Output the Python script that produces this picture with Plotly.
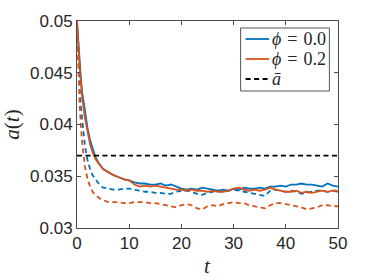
import plotly.graph_objects as go

# ---- data ----
t = [0, 0.25, 0.5, 0.75, 1, 1.5, 2, 2.5, 3, 3.5, 4, 4.5, 5] + list(range(6, 51))

a_phi00 = [0.0500, 0.0478, 0.0459, 0.0444, 0.0431, 0.0412, 0.0397, 0.0385, 0.0376, 0.0369, 0.0364, 0.0360, 0.0357,
           0.0354, 0.0351, 0.0349, 0.0347, 0.0346, 0.0344, 0.0343, 0.0343, 0.0342, 0.0342, 0.0343, 0.0341, 0.0342,
           0.0340, 0.0338, 0.0337, 0.0338, 0.0337, 0.0339, 0.0338, 0.0337, 0.0336, 0.0337, 0.0336, 0.0338, 0.0337,
           0.0339, 0.0338, 0.0338, 0.0339, 0.0338, 0.0340, 0.0340, 0.0341, 0.0340, 0.0342, 0.0342, 0.0343, 0.0342,
           0.0342, 0.0341, 0.0340, 0.0343, 0.0341, 0.0340]

a_phi02 = [0.0500, 0.0474, 0.0455, 0.0440, 0.0426, 0.0407, 0.0392, 0.0381, 0.0373, 0.0367, 0.0363, 0.0360, 0.0357,
           0.0354, 0.0351, 0.0349, 0.0347, 0.0346, 0.0342, 0.0340, 0.0341, 0.0340, 0.0341, 0.0340, 0.0339, 0.0338,
           0.0337, 0.0337, 0.0336, 0.0337, 0.0336, 0.0336, 0.0335, 0.0336, 0.0335, 0.0335, 0.0336, 0.0338, 0.0339,
           0.0337, 0.0336, 0.0337, 0.0336, 0.0337, 0.0339, 0.0337, 0.0336, 0.0335, 0.0335, 0.0336, 0.0334, 0.0335,
           0.0334, 0.0335, 0.0336, 0.0335, 0.0336, 0.0335]

abar_phi00 = [0.0500, 0.0462, 0.0436, 0.0417, 0.0403, 0.0380, 0.0366, 0.0357, 0.0351, 0.0347, 0.0344, 0.0341, 0.0339,
              0.0338, 0.0337, 0.0337, 0.0338, 0.0338, 0.0337, 0.0336, 0.0335, 0.0335, 0.0334, 0.0334, 0.0333, 0.0333,
              0.0335, 0.0336, 0.0336, 0.0335, 0.0333, 0.0332, 0.0334, 0.0335, 0.0336, 0.0335, 0.0336, 0.0337, 0.0336,
              0.0335, 0.0334, 0.0333, 0.0332, 0.0331, 0.0336, 0.0337, 0.0336, 0.0335, 0.0336, 0.0335, 0.0333, 0.0334,
              0.0335, 0.0336, 0.0336, 0.0335, 0.0336, 0.0336]

abar_phi02 = [0.0500, 0.0452, 0.0420, 0.0398, 0.0382, 0.0360, 0.0348, 0.0340, 0.0335, 0.0332, 0.0330, 0.0328, 0.0327,
              0.0325, 0.0325, 0.0325, 0.0324, 0.0324, 0.0325, 0.0325, 0.0325, 0.0324, 0.0324, 0.0323, 0.0322, 0.0321,
              0.0320, 0.0322, 0.0323, 0.0322, 0.0319, 0.0318, 0.0321, 0.0322, 0.0321, 0.0323, 0.0324, 0.0325, 0.0324,
              0.0324, 0.0322, 0.0321, 0.0320, 0.0319, 0.0322, 0.0324, 0.0324, 0.0323, 0.0322, 0.0321, 0.0320, 0.0318,
              0.0319, 0.0320, 0.0322, 0.0322, 0.0321, 0.0321]

a_bar = 0.037
t_range = [0, 50]

x_ticks = [0, 10, 20, 30, 40, 50]
y_ticks = [0.03, 0.035, 0.04, 0.045, 0.05]
y_ticktext = ["0.03", "0.035", "0.04", "0.045", "0.05"]

legend_labels = ["<i>ϕ</i>\u2004=\u20040.0", "<i>ϕ</i>\u2004=\u20040.2", "<i>ā</i>"]

BLUE = "#0072BD"
ORANGE = "#D95319"
DASH = "5px,3.5px"
LEGEND_STYLES = [(BLUE, "solid"), (ORANGE, "solid"), ("black", DASH)]

fig = go.Figure()
fig.add_trace(go.Scatter(x=t, y=abar_phi00, mode="lines", showlegend=False,
                         line=dict(color=BLUE, width=1.8, dash=DASH)))
fig.add_trace(go.Scatter(x=t, y=abar_phi02, mode="lines", showlegend=False,
                         line=dict(color=ORANGE, width=1.8, dash=DASH)))
fig.add_trace(go.Scatter(x=t, y=a_phi00, mode="lines", name=legend_labels[0], showlegend=False,
                         line=dict(color=BLUE, width=1.8)))
fig.add_trace(go.Scatter(x=t, y=a_phi02, mode="lines", name=legend_labels[1], showlegend=False,
                         line=dict(color=ORANGE, width=1.8)))
fig.add_trace(go.Scatter(x=t_range, y=[a_bar, a_bar], mode="lines", name=legend_labels[2], showlegend=False,
                         line=dict(color="black", width=1.8, dash=DASH)))

axis_common = dict(showline=True, linecolor="#4d4d4d", linewidth=1, mirror="ticks",
                   ticks="inside", ticklen=4, tickcolor="#4d4d4d", tickwidth=1,
                   showgrid=False, zeroline=False, automargin=False,
                   tickfont=dict(family="Liberation Sans, Arial, sans-serif", size=17, color="#262626"))

# plot-area geometry (pixels) used to place the legend box in paper coordinates
L, T, W, H = 77, 21, 261.6, 207.0
px = lambda x: (x - L) / W
py = lambda y: 1 - (y - T) / H

shapes = [dict(type="rect", xref="paper", yref="paper", x0=px(241), x1=px(330), y0=py(91), y1=py(28),
               line=dict(color="#555", width=1), fillcolor="white", layer="above")]
annotations = []
row_y = [39, 59, 79]
for (col, dash), lab, ry in zip(LEGEND_STYLES, legend_labels, row_y):
    shapes.append(dict(type="line", xref="paper", yref="paper", x0=px(246), x1=px(269.5),
                       y0=py(ry), y1=py(ry), line=dict(color=col, width=1.8, dash=dash), layer="above"))
    annotations.append(dict(text=lab, xref="paper", yref="paper", x=px(270), y=py(ry + 0.5),
                            xanchor="left", yanchor="middle", showarrow=False,
                            font=dict(family="Liberation Serif, serif", size=18, color="#262626")))

annotations += [
    dict(text="<i>a</i>(<i>t</i>)", xref="paper", yref="paper", x=px(11), y=0.5,
         xanchor="center", yanchor="middle", textangle=-90, showarrow=False,
         font=dict(family="Liberation Serif, serif", size=21, color="#262626")),
    dict(text="<i>t</i>", xref="paper", yref="paper", x=0.5, y=py(266),
         xanchor="center", yanchor="middle", showarrow=False,
         font=dict(family="Liberation Serif, serif", size=21, color="#262626")),
]

fig.update_layout(
    width=374, height=280,
    margin=dict(l=77, r=36, t=21, b=52),
    paper_bgcolor="white", plot_bgcolor="white",
    xaxis=dict(range=[0, 50], tickvals=x_ticks, **axis_common),
    yaxis=dict(range=[0.03, 0.05], tickvals=y_ticks, ticktext=y_ticktext, **axis_common),
    showlegend=False,
    shapes=shapes,
    annotations=annotations,
)

fig.write_html("out.html", config={"displayModeBar": False},
               post_script="document.body.style.margin='0';document.body.style.padding='0';")
